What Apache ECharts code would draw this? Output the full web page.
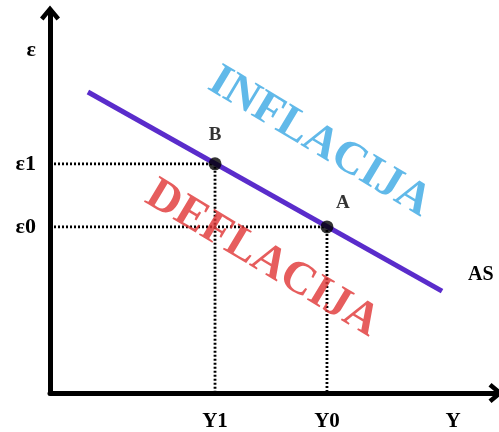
<!DOCTYPE html>
<html>
<head>
<meta charset="utf-8">
<script src="https://cdn.jsdelivr.net/npm/echarts@6/dist/echarts.min.js"></script>
<style>
  html, body { margin: 0; padding: 0; background: #fff; }
  #chart { width: 499px; height: 432px; }
</style>
</head>
<body>
<div id="chart"></div>
<script>
// AS krivulja (dvije krajnje tocke)
var asX = [8.5, 87.9]
var asY = [79.2, 26.8]
// tocke ravnoteze
var pointNames = ['B', 'A']
var pointX = [37, 62.1]
var pointY = [60.3, 43.7]
// oznake na osima
var xTickValues = [37, 62.1, 90.4]
var xTickNames = ['Y1', 'Y0', 'Y']
var yTickValues = [43.7, 60.3, 90.3]
var yTickNames = ['ε0', 'ε1', 'ε']
// natpisi podrucja
var areaNames = ['INFLACIJA', 'DEFLACIJA']
var areaX = [60.4, 47.6]
var areaY = [66, 35.3]
var areaColors = ['#3aa8e4', '#e03434']

var serif = 'Liberation Serif'
var chevron = 'path://M0,12 L10,0 L20,12 L16.5,15 L10,7 L3.5,15 Z'

function tickName (values, names) {
  return function (v) {
    for (var i = 0; i < values.length; i++) {
      if (Math.abs(values[i] - v) < 0.01) return names[i]
    }
    return ''
  }
}

var myChart = echarts.init(document.getElementById('chart'))

var guideSeries = []
for (var i = 0; i < pointX.length; i++) {
  guideSeries.push({
    type: 'line',
    data: [[0, pointY[i]], [pointX[i], pointY[i]], [pointX[i], 0]],
    symbol: 'none',
    silent: true,
    z: 1,
    lineStyle: { color: '#000', width: 2.8, type: [2, 2] }
  })
}

var labelOffsets = [[0, -29], [16, -24]]

var option = {
  backgroundColor: '#fff',
  animation: false,
  grid: { left: 50, right: 3, top: 13, bottom: 39 },
  xAxis: {
    type: 'value',
    min: 0,
    max: 100,
    splitLine: { show: false },
    axisTick: { show: false },
    axisLine: {
      lineStyle: { color: '#000', width: 5 },
      symbol: ['none', chevron],
      symbolSize: [20, 15]
    },
    axisLabel: {
      customValues: xTickValues,
      formatter: tickName(xTickValues, xTickNames),
      margin: 18,
      color: '#000',
      fontFamily: serif,
      fontWeight: 'bold',
      fontSize: 21
    }
  },
  yAxis: {
    type: 'value',
    min: 0,
    max: 100,
    splitLine: { show: false },
    axisTick: { show: false },
    axisLine: {
      lineStyle: { color: '#000', width: 5 },
      symbol: ['none', chevron],
      symbolSize: [20, 15]
    },
    axisLabel: {
      customValues: yTickValues,
      formatter: tickName(yTickValues, yTickNames),
      margin: 14,
      color: '#000',
      fontFamily: serif,
      fontWeight: 'bold',
      fontSize: 22
    }
  },
  series: guideSeries.concat([
    {
      type: 'line',
      data: asX.map(function (x, i) { return [x, asY[i]] }),
      symbol: 'none',
      z: 2,
      lineStyle: { color: '#5a2ccb', width: 5 },
      endLabel: {
        show: true,
        formatter: function () { return 'AS' },
        distance: 26,
        offset: [0, -16],
        color: '#000',
        fontFamily: serif,
        fontWeight: 'bold',
        fontSize: 20
      }
    },
    {
      type: 'scatter',
      data: pointX.map(function (x, i) {
        return {
          name: pointNames[i],
          value: [x, pointY[i]],
          label: { offset: labelOffsets[i] }
        }
      }),
      symbolSize: 13,
      z: 3,
      itemStyle: { color: '#000' },
      label: {
        show: true,
        position: 'inside',
        formatter: '{b}',
        color: '#000',
        fontFamily: serif,
        fontWeight: 'bold',
        fontSize: 19
      }
    },
    {
      type: 'scatter',
      data: areaX.map(function (x, i) {
        return {
          name: areaNames[i],
          value: [x, areaY[i]],
          label: { color: areaColors[i] }
        }
      }),
      symbolSize: 0,
      silent: true,
      z: 4,
      label: {
        show: true,
        position: 'inside',
        formatter: '{b}',
        rotate: -31,
        fontFamily: serif,
        fontWeight: 'bold',
        fontSize: 46
      }
    }
  ])
}

myChart.setOption(option)
</script>
</body>
</html>
